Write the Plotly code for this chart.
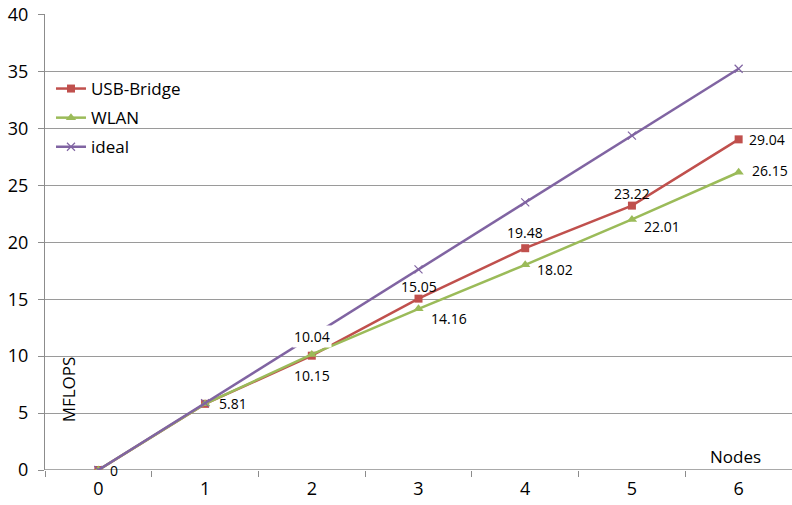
import plotly.graph_objects as go

nodes = [0, 1, 2, 3, 4, 5, 6]
usb_bridge = [0, 5.81, 10.04, 15.05, 19.48, 23.22, 29.04]
wlan = [0, 5.81, 10.15, 14.16, 18.02, 22.01, 26.15]
ideal = [0, 5.87, 11.75, 17.62, 23.5, 29.37, 35.24]
y_ticks = [0, 5, 10, 15, 20, 25, 30, 35, 40]

RED = "#C0504D"
GREEN = "#9BBB59"
PURPLE = "#8064A2"
GRID = "#9A9A9A"
AXIS = "#8C8C8C"
FONT = "Open Sans"

fig = go.Figure()
fig.add_trace(go.Scatter(x=nodes, y=usb_bridge, name="USB-Bridge", mode="lines+markers",
                         legendgroup="a",
                         line=dict(color=RED, width=2.5),
                         marker=dict(symbol="square", size=8, color=RED)))
fig.add_trace(go.Scatter(x=nodes, y=wlan, name="WLAN", mode="lines+markers",
                         legendgroup="b",
                         line=dict(color=GREEN, width=2.5),
                         marker=dict(symbol="triangle-up", size=9, color=GREEN)))
fig.add_trace(go.Scatter(x=nodes, y=ideal, name="ideal", mode="lines+markers",
                         legendgroup="c",
                         line=dict(color=PURPLE, width=2.5),
                         marker=dict(symbol="x-thin", size=8, line=dict(color=PURPLE, width=1.2))))

# data labels: (index, xshift, yshift, xanchor)
usb_labels = [(0, 10, 0, "left"), (1, 12, 0, "left"), (2, 0, 19, "center"), (3, 0, 12, "center"),
              (4, 0, 16, "center"), (5, 0, 12, "center"), (6, 8, 0, "left")]
wlan_labels = [(2, 0, -21, "center"), (3, 10, -10, "left"), (4, 10, -5, "left"),
               (5, 10, -7, "left"), (6, 11, 2, "left")]

def fmt(v):
    return "0" if v == 0 else f"{v:.2f}"

for i, xs, ys, xa in usb_labels:
    fig.add_annotation(x=nodes[i], y=usb_bridge[i], text=fmt(usb_bridge[i]), showarrow=False,
                       xshift=xs, yshift=ys, xanchor=xa, yanchor="middle",
                       font=dict(size=14, color="#000", family=FONT),
                       bgcolor="white" if i == 2 else None, borderpad=1)
for i, xs, ys, xa in wlan_labels:
    fig.add_annotation(x=nodes[i], y=wlan[i], text=fmt(wlan[i]), showarrow=False,
                       xshift=xs, yshift=ys, xanchor=xa, yanchor="middle",
                       font=dict(size=14, color="#000", family=FONT))

fig.add_annotation(text="MFLOPS", xref="paper", yref="y", x=0.031, y=7.1, textangle=-90,
                   xanchor="center", yanchor="middle",
                   showarrow=False, font=dict(size=17, color="#000", family=FONT))
fig.add_annotation(text="Nodes", xref="x", yref="y", x=5.97, y=1.2, showarrow=False,
                   xanchor="center", yanchor="middle",
                   font=dict(size=17, color="#000", family=FONT))

fig.update_layout(
    width=792, height=505,
    margin=dict(l=45, r=0, t=14, b=35, autoexpand=False),
    paper_bgcolor="white", plot_bgcolor="white",
    font=dict(family=FONT, size=17, color="#000"),
    showlegend=True,
    legend=dict(x=0.008, y=0.875, xanchor="left", yanchor="top", bgcolor="rgba(0,0,0,0)",
                font=dict(size=17, family=FONT), tracegroupgap=4, itemwidth=30),
    xaxis=dict(range=[-0.5, 6.5], tickmode="array", tickvals=nodes, ticks="",
               showgrid=False, zeroline=False, showline=False, automargin=False,
               tickfont=dict(size=18), ticklabelstandoff=6,
               minor=dict(tickmode="array", tickvals=[-0.5 + k for k in range(8)], ticks="outside",
                          ticklen=6, tickcolor=AXIS, showgrid=False)),
    yaxis=dict(range=[0, 40.05], tickmode="array", tickvals=y_ticks, ticks="outside", ticklen=6,
               tickcolor=AXIS, showgrid=True, gridcolor=GRID, gridwidth=1.2,
               zeroline=False, showline=True, linecolor=AXIS, linewidth=1.3,
               automargin=False, ticklabeloverflow="allow",
               tickfont=dict(size=18), ticklabelstandoff=6),
)
fig.add_hline(y=0, line=dict(color=AXIS, width=1.3), layer="below")

# remove the default 8px page margin so the figure fills the window exactly
fig.write_html("out.html", config={"displayModeBar": False},
               post_script="document.body.style.margin='0';")
